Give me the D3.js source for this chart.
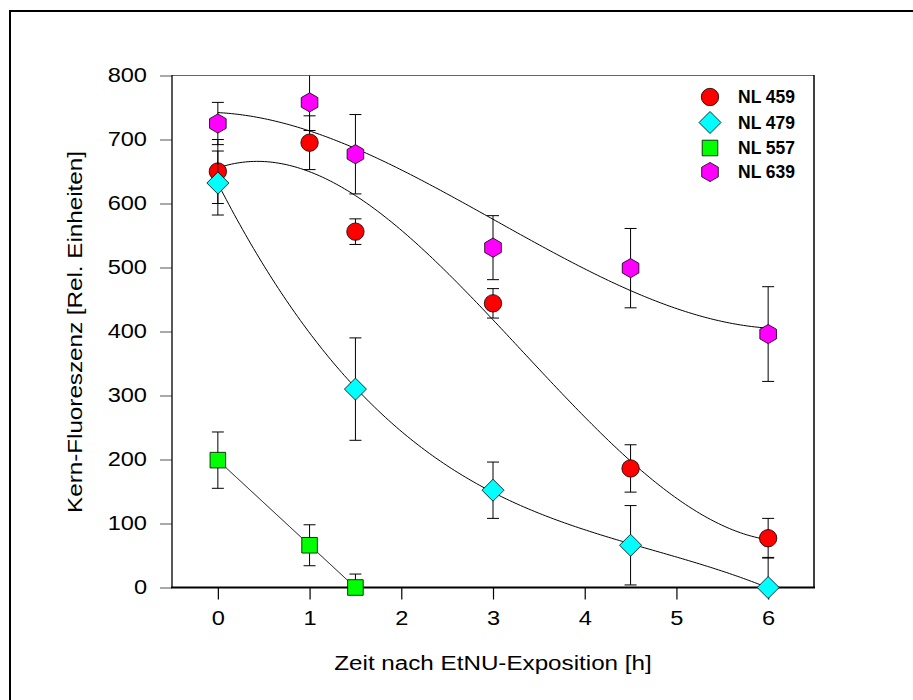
<!DOCTYPE html>
<html>
<head>
<meta charset="utf-8">
<script src="https://cdn.jsdelivr.net/npm/d3@7"></script>
<style>
  html, body { margin: 0; padding: 0; background: #fff; }
  svg { display: block; }
  text { font-family: "Liberation Sans", Arial, sans-serif; fill: #000; }
</style>
</head>
<body>
<svg id="chart" width="913" height="700"></svg>
<script>
// ---------------- data ----------------
const xTicks = [0, 1, 2, 3, 4, 5, 6];
const yTicks = [0, 100, 200, 300, 400, 500, 600, 700, 800];

const seriesNames = ["NL 459", "NL 479", "NL 557", "NL 639"];
const seriesColors = ["#ff0000", "#00ffff", "#00ff00", "#ff00ff"];
const seriesShapes = ["circle", "diamond", "square", "hexagon"];
const fitDegrees = [3, 3, 1, 3];

const times459 = [0, 1, 1.5, 3, 4.5, 6];
const values459 = [650, 695, 556, 444, 186, 77];
const errors459 = [50, 42, 20, 23, 37, 31];

const times479 = [0, 1.5, 3, 4.5, 6];
const values479 = [632, 310, 152, 66, 0];
const errors479 = [50, 80, 44, 62, 47];

const times557 = [0, 1, 1.5];
const values557 = [199, 66, 0];
const errors557 = [44, 32, 21];

const times639 = [0, 1, 1.5, 3, 4.5, 6];
const values639 = [725, 758, 677, 531, 499, 396];
const errors639 = [33, 44, 62, 50, 62, 74];

const xTitle = "Zeit nach EtNU-Exposition [h]";
const yTitle = "Kern-Fluoreszenz [Rel. Einheiten]";

const allTimes = [times459, times479, times557, times639];
const allValues = [values459, values479, values557, values639];
const allErrors = [errors459, errors479, errors557, errors639];

// ---------------- helpers ----------------
function polyfit(xs, ys, deg) {
  const n = deg + 1;
  const A = Array.from({length: n}, () => new Array(n + 1).fill(0));
  for (let i = 0; i < xs.length; i++) {
    for (let r = 0; r < n; r++) {
      for (let c = 0; c < n; c++) A[r][c] += Math.pow(xs[i], r + c);
      A[r][n] += ys[i] * Math.pow(xs[i], r);
    }
  }
  for (let col = 0; col < n; col++) {
    let piv = col;
    for (let r = col + 1; r < n; r++) if (Math.abs(A[r][col]) > Math.abs(A[piv][col])) piv = r;
    [A[col], A[piv]] = [A[piv], A[col]];
    for (let r = 0; r < n; r++) {
      if (r === col) continue;
      const f = A[r][col] / A[col][col];
      for (let c = col; c <= n; c++) A[r][c] -= f * A[col][c];
    }
  }
  const coef = A.map((row, i) => row[n] / row[i]);
  return x => coef.reduce((s, a, i) => s + a * Math.pow(x, i), 0);
}

function shapePath(shape) {
  switch (shape) {
    case "circle": { const r = 8.7; return `M${-r},0A${r},${r} 0 1,0 ${r},0A${r},${r} 0 1,0 ${-r},0Z`; }
    case "diamond": { const h = 11; return `M0,${-h}L${h},0L0,${h}L${-h},0Z`; }
    case "square": { const s = 7.8; return `M${-s},${-s}L${s},${-s}L${s},${s}L${-s},${s}Z`; }
    case "hexagon": {
      const r = 9.6;
      const pts = d3.range(6).map(i => {
        const a = Math.PI / 2 + i * Math.PI / 3;
        return [r * Math.cos(a), r * Math.sin(a)];
      });
      return "M" + pts.map(p => p.join(",")).join("L") + "Z";
    }
  }
}

// widen glyphs horizontally (the reference uses an extended-looking face)
const STRETCH = 1.21;
function stretch(sel) {
  sel.each(function () {
    const len = this.getComputedTextLength();
    d3.select(this).attr("textLength", len * STRETCH).attr("lengthAdjust", "spacingAndGlyphs");
  });
}

// ---------------- layout ----------------
const svg = d3.select("#chart");
const x = d3.scaleLinear().domain([-0.5, 6.5]).range([172, 814]);
const y = d3.scaleLinear().domain([0, 800]).range([587.5, 75.5]);

// outer frame
svg.append("rect").attr("x", 10).attr("y", 11).attr("width", 1000).attr("height", 1000)
  .attr("fill", "none").attr("stroke", "#000").attr("stroke-width", 2);

svg.append("defs").append("clipPath").attr("id", "plotclip")
  .append("rect").attr("x", 172).attr("y", 75.5).attr("width", 642).attr("height", 512);

// axes
const yAxis = d3.axisLeft(y).tickValues(yTicks).tickSize(12).tickSizeOuter(0).tickPadding(13);
const gy = svg.append("g").attr("transform", "translate(172,0)").call(yAxis);
gy.select(".domain").remove();
gy.selectAll(".tick line").attr("stroke", "#555");
gy.selectAll(".tick text").style("font-size", "19.5px")
  .style("font-family", "'Liberation Sans', Arial, sans-serif").call(stretch);

const xAxis = d3.axisBottom(x).tickValues(xTicks).tickSize(12).tickSizeOuter(0).tickPadding(12).tickFormat(d3.format("d"));
const gx = svg.append("g").attr("transform", "translate(0,587.5)").call(xAxis);
gx.select(".domain").remove();
gx.selectAll(".tick line").attr("stroke", "#000").attr("stroke-width", 1.2);
gx.selectAll(".tick text").style("font-size", "19.5px")
  .style("font-family", "'Liberation Sans', Arial, sans-serif").call(stretch);

// frame lines
svg.append("line").attr("x1", 172).attr("x2", 814).attr("y1", 75.5).attr("y2", 75.5).attr("stroke", "#666").attr("stroke-width", 1);
svg.append("line").attr("x1", 814).attr("x2", 814).attr("y1", 75).attr("y2", 588).attr("stroke", "#000").attr("stroke-width", 1.5);
svg.append("line").attr("x1", 172).attr("x2", 172).attr("y1", 75).attr("y2", 588).attr("stroke", "#000").attr("stroke-width", 1.3);
svg.append("line").attr("x1", 171).attr("x2", 815).attr("y1", 587.5).attr("y2", 587.5).attr("stroke", "#000").attr("stroke-width", 2);

// titles
svg.append("text").attr("x", 493).attr("y", 670).attr("text-anchor", "middle")
  .style("font-size", "20px").text(xTitle).call(stretch);
svg.append("text").attr("transform", "translate(82,332) rotate(-90)").attr("text-anchor", "middle")
  .style("font-size", "20px").text(yTitle).call(stretch);

// fitted curves
const plot = svg.append("g");
const curves = plot.append("g").attr("clip-path", "url(#plotclip)");
allTimes.forEach((ts, si) => {
  const f = polyfit(ts, allValues[si], fitDegrees[si]);
  const x0 = d3.min(ts), x1 = d3.max(ts);
  const pts = d3.range(0, 201).map(i => x0 + (x1 - x0) * i / 200).map(t => [t, f(t)]);
  curves.append("path")
    .attr("d", d3.line().x(d => x(d[0])).y(d => y(d[1]))(pts))
    .attr("fill", "none").attr("stroke", "#000").attr("stroke-width", 1);
});

// error bars and markers
allTimes.forEach((ts, si) => {
  const vals = allValues[si], errs = allErrors[si];
  const eb = plot.append("g").attr("clip-path", "url(#plotclip)");
  ts.forEach((t, i) => {
    const cx = x(t), lo = y(vals[i] - errs[i]), hi = y(vals[i] + errs[i]);
    eb.append("line").attr("x1", cx).attr("x2", cx).attr("y1", lo).attr("y2", hi).attr("stroke", "#000").attr("stroke-width", 1);
    [lo, hi].forEach(yy => eb.append("line").attr("x1", cx - 6).attr("x2", cx + 6).attr("y1", yy).attr("y2", yy).attr("stroke", "#000").attr("stroke-width", 1));
  });
  const mk = plot.append("g");
  ts.forEach((t, i) => {
    mk.append("path").attr("d", shapePath(seriesShapes[si]))
      .attr("transform", `translate(${x(t)},${y(vals[i])})`)
      .attr("fill", seriesColors[si]).attr("stroke", "#000").attr("stroke-width", 0.8);
  });
});

// legend
const legendY = [97, 122.5, 148, 172];
const lg = svg.append("g");
seriesNames.forEach((name, si) => {
  lg.append("path").attr("d", shapePath(seriesShapes[si]))
    .attr("transform", `translate(710,${legendY[si]})`)
    .attr("fill", seriesColors[si]).attr("stroke", "#000").attr("stroke-width", 0.8);
  lg.append("text").attr("x", 738).attr("y", legendY[si]).attr("dy", "0.36em")
    .style("font-size", "17.5px").style("font-weight", "bold").text(name);
});
</script>
</body>
</html>
